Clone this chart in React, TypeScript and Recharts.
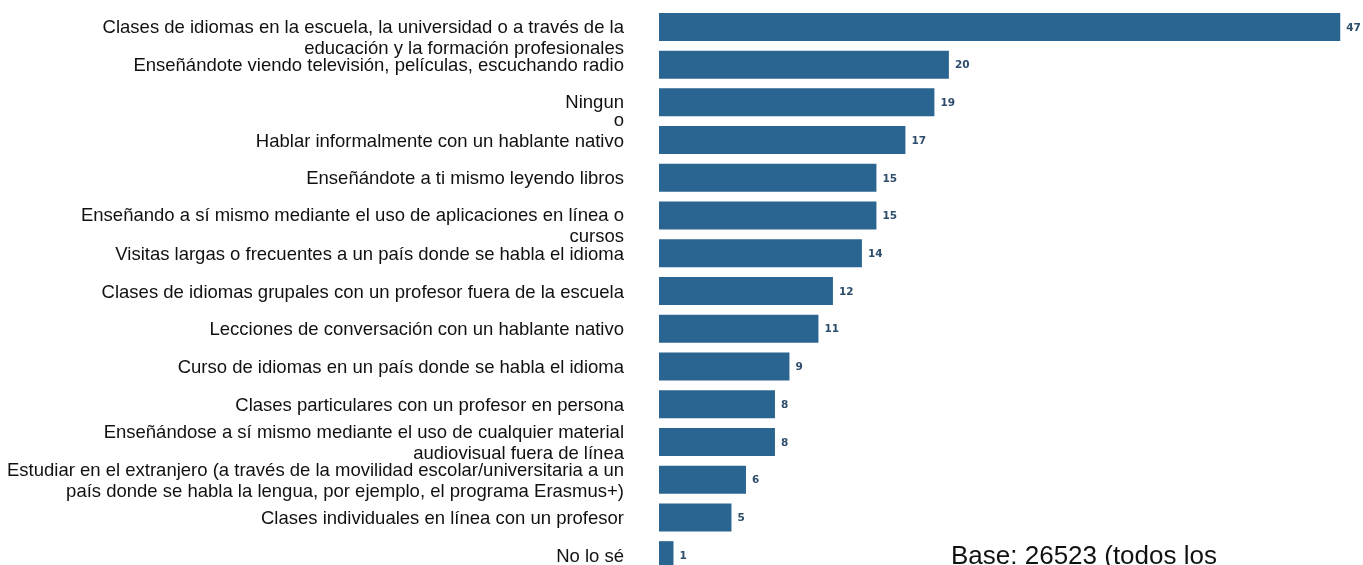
import React from 'react';
import { BarChart, Bar, XAxis, YAxis, LabelList } from 'recharts';

// categories, one entry per row ("\n" = line break as in the source)
const categories = [
  'Clases de idiomas en la escuela, la universidad o a través de la\neducación y la formación profesionales',
  'Enseñándote viendo televisión, películas, escuchando radio',
  'Ningun\no',
  'Hablar informalmente con un hablante nativo',
  'Enseñándote a ti mismo leyendo libros',
  'Enseñando a sí mismo mediante el uso de aplicaciones en línea o\ncursos',
  'Visitas largas o frecuentes a un país donde se habla el idioma',
  'Clases de idiomas grupales con un profesor fuera de la escuela',
  'Lecciones de conversación con un hablante nativo',
  'Curso de idiomas en un país donde se habla el idioma',
  'Clases particulares con un profesor en persona',
  'Enseñándose a sí mismo mediante el uso de cualquier material\naudiovisual fuera de línea',
  'Estudiar en el extranjero (a través de la movilidad escolar/universitaria a un\npaís donde se habla la lengua, por ejemplo, el programa Erasmus+)',
  'Clases individuales en línea con un profesor',
  'No lo sé',
];

const values = [47, 20, 19, 17, 15, 15, 14, 12, 11, 9, 8, 8, 6, 5, 1];

const baseNote = 'Base: 26523 (todos los';

const data = categories.map((name, i) => ({ name, value: values[i] }));

// rows whose first line sits on the bar centre (the rest is centred as a block)
const firstLineAnchored = new Set([0, 2, 5]);

const LabelTick = ({ x, y, payload, index }: any) => {
  const lines = String(payload.value).split('\n');
  const lineH = index === 2 ? 18 : 21;
  const start = firstLineAnchored.has(index) ? -1 : -((lines.length - 1) * lineH) / 2;
  return (
    <text
      x={x - 27}
      y={y}
      textAnchor="end"
      fontFamily="'Liberation Sans', Arial, sans-serif"
      fontSize={18.5}
      fill="#111"
    >
      {lines.map((l, i) => (
        <tspan key={i} x={x - 27} y={y + start + i * lineH} dy="0.36em">
          {l}
        </tspan>
      ))}
    </text>
  );
};

export default function App() {
  // fixed so the chart, which runs past the bottom edge, adds no scrollbar
  return (
    <div style={{ position: 'fixed', left: 0, top: 0, width: 1363, height: 580 }}>
      <BarChart
        width={1363}
        height={574}
        data={data}
        layout="vertical"
        margin={{ top: 8, right: 1, bottom: 0, left: 0 }}
        barCategoryGap="13%"
      >
        <XAxis type="number" domain={[0, 48.5]} hide />
        <YAxis
          type="category"
          dataKey="name"
          width={659}
          axisLine={false}
          tickLine={false}
          interval={0}
          tick={<LabelTick />}
        />
        <Bar dataKey="value" fill="#2a6592" isAnimationActive={false}>
          <LabelList
            dataKey="value"
            position="right"
            offset={6}
            fill="#2e4d6b"
            fontSize={10.5}
            fontWeight="bold"
            fontFamily="'DejaVu Sans', Verdana, sans-serif"
          />
        </Bar>
      </BarChart>
      <div
        style={{
          position: 'absolute',
          left: 951,
          top: 540,
          fontFamily: "'Liberation Sans', Arial, sans-serif",
          fontSize: 26,
          color: '#111',
          whiteSpace: 'nowrap',
        }}
      >
        {baseNote}
      </div>
    </div>
  );
}
